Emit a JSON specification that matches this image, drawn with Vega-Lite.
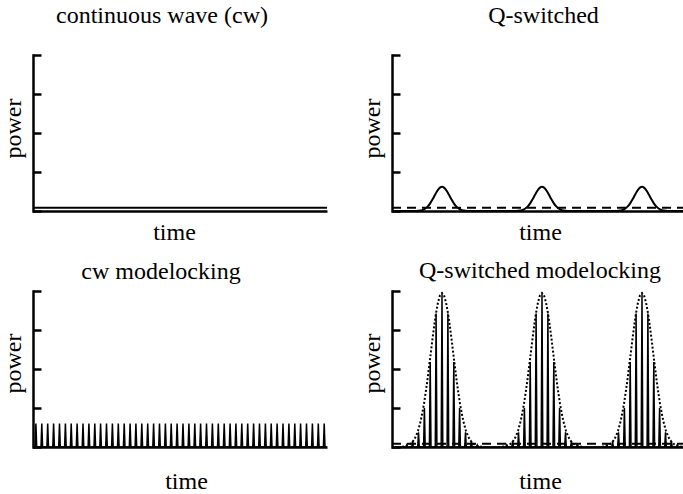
{
"$schema": "https://vega.github.io/schema/vega-lite/v6.json",
"padding": {"left": 1, "top": 3, "right": 0, "bottom": 0},
"background": "white",
"bounds": "flush",
"columns": 2,
"spacing": {"row": 80, "column": 65},
"config": {
  "view": {"stroke": null},
  "font": "Liberation Serif, Times New Roman, serif",
  "title": {"font": "Liberation Serif, Times New Roman, serif", "fontSize": 24, "fontWeight": "normal", "color": "black", "baseline": "alphabetic", "frame": "group", "anchor": "middle"},
  "style": {"group-title": {"font": "Liberation Serif, Times New Roman, serif", "fontSize": 24, "fontWeight": "normal"}},
  "axis": {"titleFont": "Liberation Serif, Times New Roman, serif", "titleFontSize": 24, "titleFontWeight": "normal", "titleColor": "black", "labels": false, "grid": false, "domainColor": "black", "domainWidth": 2.5, "tickColor": "black", "tickWidth": 2.5},
  "line": {"color": "black", "strokeWidth": 2}
},
"datasets": {
  "cw": [{"t": 0, "p": 0.085}, {"t": 2.94, "p": 0.085}],
  "avg": [{"t": 0, "p": 0.085}, {"t": 2.91, "p": 0.085}],
  "qs": [
    {"t":0,"p":0},
    {"t":0.22,"p":0},{"t":0.24,"p":0.002},{"t":0.26,"p":0.005},{"t":0.28,"p":0.012},{"t":0.30,"p":0.023},{"t":0.32,"p":0.043},{"t":0.34,"p":0.076},{"t":0.36,"p":0.124},{"t":0.38,"p":0.19},{"t":0.40,"p":0.273},{"t":0.42,"p":0.366},{"t":0.44,"p":0.461},{"t":0.46,"p":0.544},{"t":0.48,"p":0.6},{"t":0.50,"p":0.62},{"t":0.52,"p":0.6},{"t":0.54,"p":0.544},{"t":0.56,"p":0.461},{"t":0.58,"p":0.366},{"t":0.60,"p":0.273},{"t":0.62,"p":0.19},{"t":0.64,"p":0.124},{"t":0.66,"p":0.076},{"t":0.68,"p":0.043},{"t":0.70,"p":0.023},{"t":0.72,"p":0.012},{"t":0.74,"p":0.005},{"t":0.76,"p":0.002},{"t":0.78,"p":0},
    {"t":1.22,"p":0},{"t":1.24,"p":0.002},{"t":1.26,"p":0.005},{"t":1.28,"p":0.012},{"t":1.30,"p":0.023},{"t":1.32,"p":0.043},{"t":1.34,"p":0.076},{"t":1.36,"p":0.124},{"t":1.38,"p":0.19},{"t":1.40,"p":0.273},{"t":1.42,"p":0.366},{"t":1.44,"p":0.461},{"t":1.46,"p":0.544},{"t":1.48,"p":0.6},{"t":1.50,"p":0.62},{"t":1.52,"p":0.6},{"t":1.54,"p":0.544},{"t":1.56,"p":0.461},{"t":1.58,"p":0.366},{"t":1.60,"p":0.273},{"t":1.62,"p":0.19},{"t":1.64,"p":0.124},{"t":1.66,"p":0.076},{"t":1.68,"p":0.043},{"t":1.70,"p":0.023},{"t":1.72,"p":0.012},{"t":1.74,"p":0.005},{"t":1.76,"p":0.002},{"t":1.78,"p":0},
    {"t":2.22,"p":0},{"t":2.24,"p":0.002},{"t":2.26,"p":0.005},{"t":2.28,"p":0.012},{"t":2.30,"p":0.023},{"t":2.32,"p":0.043},{"t":2.34,"p":0.076},{"t":2.36,"p":0.124},{"t":2.38,"p":0.19},{"t":2.40,"p":0.273},{"t":2.42,"p":0.366},{"t":2.44,"p":0.461},{"t":2.46,"p":0.544},{"t":2.48,"p":0.6},{"t":2.50,"p":0.62},{"t":2.52,"p":0.6},{"t":2.54,"p":0.544},{"t":2.56,"p":0.461},{"t":2.58,"p":0.366},{"t":2.60,"p":0.273},{"t":2.62,"p":0.19},{"t":2.64,"p":0.124},{"t":2.66,"p":0.076},{"t":2.68,"p":0.043},{"t":2.70,"p":0.023},{"t":2.72,"p":0.012},{"t":2.74,"p":0.005},{"t":2.76,"p":0.002},{"t":2.78,"p":0},
    {"t":2.91,"p":0}
  ],
  "env": [
    {"q":1,"t":0.10,"p":0.007},{"q":1,"t":0.12,"p":0.014},{"q":1,"t":0.14,"p":0.025},{"q":1,"t":0.16,"p":0.043},{"q":1,"t":0.18,"p":0.072},{"q":1,"t":0.20,"p":0.116},{"q":1,"t":0.22,"p":0.183},{"q":1,"t":0.24,"p":0.28},{"q":1,"t":0.26,"p":0.414},{"q":1,"t":0.28,"p":0.594},{"q":1,"t":0.30,"p":0.825},{"q":1,"t":0.32,"p":1.111},{"q":1,"t":0.34,"p":1.45},{"q":1,"t":0.36,"p":1.834},{"q":1,"t":0.38,"p":2.248},{"q":1,"t":0.40,"p":2.67},{"q":1,"t":0.42,"p":3.074},{"q":1,"t":0.44,"p":3.431},{"q":1,"t":0.46,"p":3.71},{"q":1,"t":0.48,"p":3.889},{"q":1,"t":0.50,"p":3.95},{"q":1,"t":0.52,"p":3.889},{"q":1,"t":0.54,"p":3.71},{"q":1,"t":0.56,"p":3.431},{"q":1,"t":0.58,"p":3.074},{"q":1,"t":0.60,"p":2.67},{"q":1,"t":0.62,"p":2.248},{"q":1,"t":0.64,"p":1.834},{"q":1,"t":0.66,"p":1.45},{"q":1,"t":0.68,"p":1.111},{"q":1,"t":0.70,"p":0.825},{"q":1,"t":0.72,"p":0.594},{"q":1,"t":0.74,"p":0.414},{"q":1,"t":0.76,"p":0.28},{"q":1,"t":0.78,"p":0.183},{"q":1,"t":0.80,"p":0.116},{"q":1,"t":0.82,"p":0.072},{"q":1,"t":0.84,"p":0.043},{"q":1,"t":0.86,"p":0.025},{"q":1,"t":0.88,"p":0.014},{"q":1,"t":0.90,"p":0.007},
    {"q":2,"t":1.10,"p":0.007},{"q":2,"t":1.12,"p":0.014},{"q":2,"t":1.14,"p":0.025},{"q":2,"t":1.16,"p":0.043},{"q":2,"t":1.18,"p":0.072},{"q":2,"t":1.20,"p":0.116},{"q":2,"t":1.22,"p":0.183},{"q":2,"t":1.24,"p":0.28},{"q":2,"t":1.26,"p":0.414},{"q":2,"t":1.28,"p":0.594},{"q":2,"t":1.30,"p":0.825},{"q":2,"t":1.32,"p":1.111},{"q":2,"t":1.34,"p":1.45},{"q":2,"t":1.36,"p":1.834},{"q":2,"t":1.38,"p":2.248},{"q":2,"t":1.40,"p":2.67},{"q":2,"t":1.42,"p":3.074},{"q":2,"t":1.44,"p":3.431},{"q":2,"t":1.46,"p":3.71},{"q":2,"t":1.48,"p":3.889},{"q":2,"t":1.50,"p":3.95},{"q":2,"t":1.52,"p":3.889},{"q":2,"t":1.54,"p":3.71},{"q":2,"t":1.56,"p":3.431},{"q":2,"t":1.58,"p":3.074},{"q":2,"t":1.60,"p":2.67},{"q":2,"t":1.62,"p":2.248},{"q":2,"t":1.64,"p":1.834},{"q":2,"t":1.66,"p":1.45},{"q":2,"t":1.68,"p":1.111},{"q":2,"t":1.70,"p":0.825},{"q":2,"t":1.72,"p":0.594},{"q":2,"t":1.74,"p":0.414},{"q":2,"t":1.76,"p":0.28},{"q":2,"t":1.78,"p":0.183},{"q":2,"t":1.80,"p":0.116},{"q":2,"t":1.82,"p":0.072},{"q":2,"t":1.84,"p":0.043},{"q":2,"t":1.86,"p":0.025},{"q":2,"t":1.88,"p":0.014},{"q":2,"t":1.90,"p":0.007},
    {"q":3,"t":2.10,"p":0.007},{"q":3,"t":2.12,"p":0.014},{"q":3,"t":2.14,"p":0.025},{"q":3,"t":2.16,"p":0.043},{"q":3,"t":2.18,"p":0.072},{"q":3,"t":2.20,"p":0.116},{"q":3,"t":2.22,"p":0.183},{"q":3,"t":2.24,"p":0.28},{"q":3,"t":2.26,"p":0.414},{"q":3,"t":2.28,"p":0.594},{"q":3,"t":2.30,"p":0.825},{"q":3,"t":2.32,"p":1.111},{"q":3,"t":2.34,"p":1.45},{"q":3,"t":2.36,"p":1.834},{"q":3,"t":2.38,"p":2.248},{"q":3,"t":2.40,"p":2.67},{"q":3,"t":2.42,"p":3.074},{"q":3,"t":2.44,"p":3.431},{"q":3,"t":2.46,"p":3.71},{"q":3,"t":2.48,"p":3.889},{"q":3,"t":2.50,"p":3.95},{"q":3,"t":2.52,"p":3.889},{"q":3,"t":2.54,"p":3.71},{"q":3,"t":2.56,"p":3.431},{"q":3,"t":2.58,"p":3.074},{"q":3,"t":2.60,"p":2.67},{"q":3,"t":2.62,"p":2.248},{"q":3,"t":2.64,"p":1.834},{"q":3,"t":2.66,"p":1.45},{"q":3,"t":2.68,"p":1.111},{"q":3,"t":2.70,"p":0.825},{"q":3,"t":2.72,"p":0.594},{"q":3,"t":2.74,"p":0.414},{"q":3,"t":2.76,"p":0.28},{"q":3,"t":2.78,"p":0.183},{"q":3,"t":2.80,"p":0.116},{"q":3,"t":2.82,"p":0.072},{"q":3,"t":2.84,"p":0.043},{"q":3,"t":2.86,"p":0.025},{"q":3,"t":2.88,"p":0.014},{"q":3,"t":2.90,"p":0.007}
  ],
  "cwml": [
    {"t":0,"p":0},
    {"t":0.021,"p":0},{"t":0.029,"p":0.6},{"t":0.037,"p":0},
    {"t":0.080,"p":0},{"t":0.088,"p":0.6},{"t":0.096,"p":0},
    {"t":0.139,"p":0},{"t":0.147,"p":0.6},{"t":0.155,"p":0},
    {"t":0.198,"p":0},{"t":0.206,"p":0.6},{"t":0.214,"p":0},
    {"t":0.257,"p":0},{"t":0.265,"p":0.6},{"t":0.273,"p":0},
    {"t":0.316,"p":0},{"t":0.324,"p":0.6},{"t":0.332,"p":0},
    {"t":0.374,"p":0},{"t":0.382,"p":0.6},{"t":0.390,"p":0},
    {"t":0.433,"p":0},{"t":0.441,"p":0.6},{"t":0.449,"p":0},
    {"t":0.492,"p":0},{"t":0.500,"p":0.6},{"t":0.508,"p":0},
    {"t":0.551,"p":0},{"t":0.559,"p":0.6},{"t":0.567,"p":0},
    {"t":0.610,"p":0},{"t":0.618,"p":0.6},{"t":0.626,"p":0},
    {"t":0.668,"p":0},{"t":0.676,"p":0.6},{"t":0.684,"p":0},
    {"t":0.727,"p":0},{"t":0.735,"p":0.6},{"t":0.743,"p":0},
    {"t":0.786,"p":0},{"t":0.794,"p":0.6},{"t":0.802,"p":0},
    {"t":0.845,"p":0},{"t":0.853,"p":0.6},{"t":0.861,"p":0},
    {"t":0.904,"p":0},{"t":0.912,"p":0.6},{"t":0.920,"p":0},
    {"t":0.963,"p":0},{"t":0.971,"p":0.6},{"t":0.979,"p":0},
    {"t":1.021,"p":0},{"t":1.029,"p":0.6},{"t":1.037,"p":0},
    {"t":1.080,"p":0},{"t":1.088,"p":0.6},{"t":1.096,"p":0},
    {"t":1.139,"p":0},{"t":1.147,"p":0.6},{"t":1.155,"p":0},
    {"t":1.198,"p":0},{"t":1.206,"p":0.6},{"t":1.214,"p":0},
    {"t":1.257,"p":0},{"t":1.265,"p":0.6},{"t":1.273,"p":0},
    {"t":1.316,"p":0},{"t":1.324,"p":0.6},{"t":1.332,"p":0},
    {"t":1.374,"p":0},{"t":1.382,"p":0.6},{"t":1.390,"p":0},
    {"t":1.433,"p":0},{"t":1.441,"p":0.6},{"t":1.449,"p":0},
    {"t":1.492,"p":0},{"t":1.500,"p":0.6},{"t":1.508,"p":0},
    {"t":1.551,"p":0},{"t":1.559,"p":0.6},{"t":1.567,"p":0},
    {"t":1.610,"p":0},{"t":1.618,"p":0.6},{"t":1.626,"p":0},
    {"t":1.668,"p":0},{"t":1.676,"p":0.6},{"t":1.684,"p":0},
    {"t":1.727,"p":0},{"t":1.735,"p":0.6},{"t":1.743,"p":0},
    {"t":1.786,"p":0},{"t":1.794,"p":0.6},{"t":1.802,"p":0},
    {"t":1.845,"p":0},{"t":1.853,"p":0.6},{"t":1.861,"p":0},
    {"t":1.904,"p":0},{"t":1.912,"p":0.6},{"t":1.920,"p":0},
    {"t":1.963,"p":0},{"t":1.971,"p":0.6},{"t":1.979,"p":0},
    {"t":2.021,"p":0},{"t":2.029,"p":0.6},{"t":2.037,"p":0},
    {"t":2.080,"p":0},{"t":2.088,"p":0.6},{"t":2.096,"p":0},
    {"t":2.139,"p":0},{"t":2.147,"p":0.6},{"t":2.155,"p":0},
    {"t":2.198,"p":0},{"t":2.206,"p":0.6},{"t":2.214,"p":0},
    {"t":2.257,"p":0},{"t":2.265,"p":0.6},{"t":2.273,"p":0},
    {"t":2.316,"p":0},{"t":2.324,"p":0.6},{"t":2.332,"p":0},
    {"t":2.374,"p":0},{"t":2.382,"p":0.6},{"t":2.390,"p":0},
    {"t":2.433,"p":0},{"t":2.441,"p":0.6},{"t":2.449,"p":0},
    {"t":2.492,"p":0},{"t":2.500,"p":0.6},{"t":2.508,"p":0},
    {"t":2.551,"p":0},{"t":2.559,"p":0.6},{"t":2.567,"p":0},
    {"t":2.610,"p":0},{"t":2.618,"p":0.6},{"t":2.626,"p":0},
    {"t":2.668,"p":0},{"t":2.676,"p":0.6},{"t":2.684,"p":0},
    {"t":2.727,"p":0},{"t":2.735,"p":0.6},{"t":2.743,"p":0},
    {"t":2.786,"p":0},{"t":2.794,"p":0.6},{"t":2.802,"p":0},
    {"t":2.845,"p":0},{"t":2.853,"p":0.6},{"t":2.861,"p":0},
    {"t":2.904,"p":0},{"t":2.912,"p":0.6},{"t":2.920,"p":0},
    {"t":2.94,"p":0}
  ],
  "qsml": [
    {"t":0,"p":0},
    {"t":0.139,"p":0},{"t":0.147,"p":0.05},{"t":0.155,"p":0},
    {"t":0.198,"p":0},{"t":0.206,"p":0.15},{"t":0.214,"p":0},
    {"t":0.257,"p":0},{"t":0.265,"p":0.38},{"t":0.273,"p":0},
    {"t":0.316,"p":0},{"t":0.324,"p":1.0},{"t":0.332,"p":0},
    {"t":0.374,"p":0},{"t":0.382,"p":2.18},{"t":0.390,"p":0},
    {"t":0.433,"p":0},{"t":0.441,"p":3.42},{"t":0.449,"p":0},
    {"t":0.492,"p":0},{"t":0.500,"p":3.92},{"t":0.508,"p":0},
    {"t":0.551,"p":0},{"t":0.559,"p":3.42},{"t":0.567,"p":0},
    {"t":0.610,"p":0},{"t":0.618,"p":2.18},{"t":0.626,"p":0},
    {"t":0.668,"p":0},{"t":0.676,"p":1.0},{"t":0.684,"p":0},
    {"t":0.727,"p":0},{"t":0.735,"p":0.38},{"t":0.743,"p":0},
    {"t":0.786,"p":0},{"t":0.794,"p":0.15},{"t":0.802,"p":0},
    {"t":0.845,"p":0},{"t":0.853,"p":0.05},{"t":0.861,"p":0},
    {"t":1.139,"p":0},{"t":1.147,"p":0.05},{"t":1.155,"p":0},
    {"t":1.198,"p":0},{"t":1.206,"p":0.15},{"t":1.214,"p":0},
    {"t":1.257,"p":0},{"t":1.265,"p":0.38},{"t":1.273,"p":0},
    {"t":1.316,"p":0},{"t":1.324,"p":1.0},{"t":1.332,"p":0},
    {"t":1.374,"p":0},{"t":1.382,"p":2.18},{"t":1.390,"p":0},
    {"t":1.433,"p":0},{"t":1.441,"p":3.42},{"t":1.449,"p":0},
    {"t":1.492,"p":0},{"t":1.500,"p":3.92},{"t":1.508,"p":0},
    {"t":1.551,"p":0},{"t":1.559,"p":3.42},{"t":1.567,"p":0},
    {"t":1.610,"p":0},{"t":1.618,"p":2.18},{"t":1.626,"p":0},
    {"t":1.668,"p":0},{"t":1.676,"p":1.0},{"t":1.684,"p":0},
    {"t":1.727,"p":0},{"t":1.735,"p":0.38},{"t":1.743,"p":0},
    {"t":1.786,"p":0},{"t":1.794,"p":0.15},{"t":1.802,"p":0},
    {"t":1.845,"p":0},{"t":1.853,"p":0.05},{"t":1.861,"p":0},
    {"t":2.139,"p":0},{"t":2.147,"p":0.05},{"t":2.155,"p":0},
    {"t":2.198,"p":0},{"t":2.206,"p":0.15},{"t":2.214,"p":0},
    {"t":2.257,"p":0},{"t":2.265,"p":0.38},{"t":2.273,"p":0},
    {"t":2.316,"p":0},{"t":2.324,"p":1.0},{"t":2.332,"p":0},
    {"t":2.374,"p":0},{"t":2.382,"p":2.18},{"t":2.390,"p":0},
    {"t":2.433,"p":0},{"t":2.441,"p":3.42},{"t":2.449,"p":0},
    {"t":2.492,"p":0},{"t":2.500,"p":3.92},{"t":2.508,"p":0},
    {"t":2.551,"p":0},{"t":2.559,"p":3.42},{"t":2.567,"p":0},
    {"t":2.610,"p":0},{"t":2.618,"p":2.18},{"t":2.626,"p":0},
    {"t":2.668,"p":0},{"t":2.676,"p":1.0},{"t":2.684,"p":0},
    {"t":2.727,"p":0},{"t":2.735,"p":0.38},{"t":2.743,"p":0},
    {"t":2.786,"p":0},{"t":2.794,"p":0.15},{"t":2.802,"p":0},
    {"t":2.845,"p":0},{"t":2.853,"p":0.05},{"t":2.861,"p":0},
    {"t":2.91,"p":0}
  ]
},
"concat": [
  {
    "width": 294, "height": 156,
    "title": {"text": "continuous wave (cw)", "font": "Liberation Serif, Times New Roman, serif", "fontSize": 24, "fontWeight": "normal", "offset": 26, "dx": -18},
    "encoding": {
      "x": {"field": "t", "type": "quantitative", "scale": {"domain": [0, 2.94], "nice": false, "zero": false},
            "axis": {"title": "time", "ticks": false, "labels": false, "domainCap": "butt", "titleX": 141, "titleY": 28, "titleBaseline": "alphabetic", "titleAlign": "center"}},
      "y": {"field": "p", "type": "quantitative", "scale": {"domain": [0, 4], "nice": false},
            "axis": {"title": "power", "values": [0, 1, 2, 3, 4], "ticks": true, "tickSize": -8, "domainCap": "square", "titleX": -13, "titleY": 73, "titleAngle": 270, "titleBaseline": "alphabetic", "titleAlign": "center"}}
    },
    "layer": [
      {"data": {"name": "cw"}, "mark": {"type": "line", "strokeWidth": 2}}
    ]
  },
  {
    "width": 291, "height": 156,
    "title": {"text": "Q-switched", "font": "Liberation Serif, Times New Roman, serif", "fontSize": 24, "fontWeight": "normal", "offset": 26, "dx": 6},
    "encoding": {
      "x": {"field": "t", "type": "quantitative", "scale": {"domain": [0, 2.91], "nice": false, "zero": false},
            "axis": {"title": "time", "ticks": false, "labels": false, "domainCap": "butt", "titleX": 148, "titleY": 28, "titleBaseline": "alphabetic", "titleAlign": "center"}},
      "y": {"field": "p", "type": "quantitative", "scale": {"domain": [0, 4], "nice": false},
            "axis": {"title": "power", "values": [0, 1, 2, 3, 4], "ticks": true, "tickSize": -8, "domainCap": "square", "titleX": -13, "titleY": 73, "titleAngle": 270, "titleBaseline": "alphabetic", "titleAlign": "center"}}
    },
    "layer": [
      {"data": {"name": "avg"}, "mark": {"type": "line", "strokeWidth": 2, "strokeDash": [9, 6]}},
      {"data": {"name": "qs"}, "mark": {"type": "line", "strokeWidth": 2, "interpolate": "monotone"}}
    ]
  },
  {
    "width": 294, "height": 156,
    "title": {"text": "cw modelocking", "font": "Liberation Serif, Times New Roman, serif", "fontSize": 24, "fontWeight": "normal", "offset": 5.5, "dx": -19},
    "encoding": {
      "x": {"field": "t", "type": "quantitative", "scale": {"domain": [0, 2.94], "nice": false, "zero": false},
            "axis": {"title": "time", "ticks": false, "labels": false, "domainCap": "butt", "titleX": 153, "titleY": 41, "titleBaseline": "alphabetic", "titleAlign": "center"}},
      "y": {"field": "p", "type": "quantitative", "scale": {"domain": [0, 4], "nice": false},
            "axis": {"title": "power", "values": [0, 1, 2, 3, 4], "ticks": true, "tickSize": -8, "domainCap": "square", "titleX": -13, "titleY": 72, "titleAngle": 270, "titleBaseline": "alphabetic", "titleAlign": "center"}}
    },
    "layer": [
      {"data": {"name": "cwml"}, "mark": {"type": "line", "strokeWidth": 1.5}}
    ]
  },
  {
    "width": 291, "height": 156,
    "title": {"text": "Q-switched modelocking", "font": "Liberation Serif, Times New Roman, serif", "fontSize": 24, "fontWeight": "normal", "offset": 5.5, "dx": 2.5},
    "encoding": {
      "x": {"field": "t", "type": "quantitative", "scale": {"domain": [0, 2.91], "nice": false, "zero": false},
            "axis": {"title": "time", "ticks": false, "labels": false, "domainCap": "butt", "titleX": 148, "titleY": 41, "titleBaseline": "alphabetic", "titleAlign": "center"}},
      "y": {"field": "p", "type": "quantitative", "scale": {"domain": [0, 4], "nice": false},
            "axis": {"title": "power", "values": [0, 1, 2, 3, 4], "ticks": true, "tickSize": -8, "domainCap": "square", "titleX": -13, "titleY": 72, "titleAngle": 270, "titleBaseline": "alphabetic", "titleAlign": "center"}}
    },
    "layer": [
      {"data": {"name": "avg"}, "mark": {"type": "line", "strokeWidth": 2, "strokeDash": [9, 6]}},
      {"data": {"name": "qsml"}, "mark": {"type": "line", "strokeWidth": 1.5}},
      {"data": {"name": "env"}, "mark": {"type": "line", "strokeWidth": 2, "strokeDash": [2, 2]}, "encoding": {"detail": {"field": "q", "type": "nominal"}}}
    ]
  }
]
}
